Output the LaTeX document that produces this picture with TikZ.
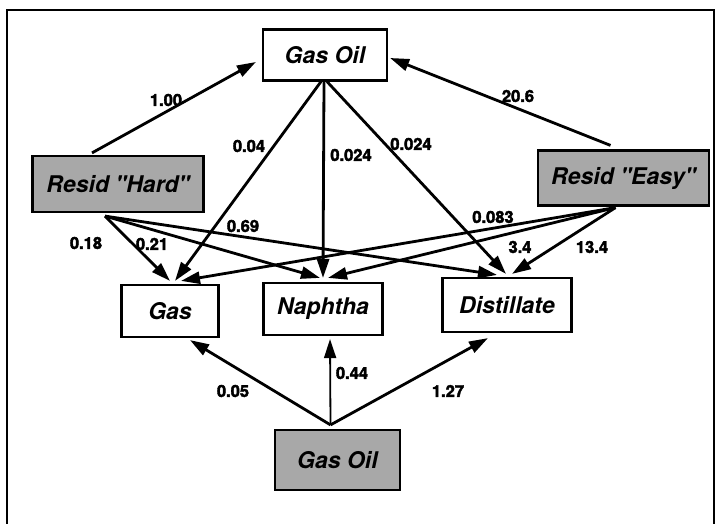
\documentclass[tikz,border=0pt]{standalone}
\usepackage{fontspec}
\setmainfont{TeX Gyre Heros}[BoldFeatures={FakeBold=2.5}]
\usepackage{tikz}
\usetikzlibrary{arrows.meta, positioning}

\tikzset{
    lump/.style={draw, line width=2.2pt, inner sep=0pt, font=\fontsize{23}{25}\selectfont\bfseries\itshape},
    feed/.style={lump, fill=black!34},
    flow/.style={line width=2.8pt, -{Triangle[length=19pt,width=12pt]}},
    rate/.style={font=\fontsize{16.5}{18}\selectfont\bfseries},
}

\begin{document}
\begin{tikzpicture}[x=1pt, y=-1pt]
    \useasboundingbox (0,0) rectangle (725,524);
    \draw[line width=2.2pt] (7,530) -- (7,10) -- (714,10) -- (714,530);

    % lumps
    \node[lump, minimum width=124pt, minimum height=51pt] (gasoil)     at (325,55)    {Gas Oil};
    \node[feed, minimum width=171pt, minimum height=56pt] (hard)       at (118,184)   {Resid \textquotedbl Hard\textquotedbl};
    \node[feed, minimum width=171pt, minimum height=55pt] (easy)       at (623.5,178) {Resid \textquotedbl Easy\textquotedbl};
    \node[lump, minimum width=97pt,  minimum height=52pt] (gas)        at (170,311)   {Gas};
    \node[lump, minimum width=119pt, minimum height=52pt] (naphtha)    at (323,309)   {Naphtha};
    \node[lump, minimum width=129pt, minimum height=54pt] (distillate) at (507,305)   {Distillate};
    \node[feed, minimum width=125pt, minimum height=60pt] (gasoilb)    at (337.5,460) {Gas Oil};

    % shared outlets
    \coordinate (hardout) at ([xshift=-13pt,yshift=-3pt]hard.south);
    \coordinate (easyout) at ([xshift=-8pt,yshift=-1pt]easy.south);
    \coordinate (gasoilout) at (gasoil.south);
    \coordinate (gasoilbout) at ([xshift=-7pt,yshift=4pt]gasoilb.north);

    % resid to gas oil
    \draw[flow] ([xshift=-26pt,yshift=2pt]hard.north) -- ([xshift=-6pt,yshift=-7pt]gasoil.west);
    \draw[flow] ([xshift=-13pt,yshift=4pt]easy.north) -- ([xshift=2pt,yshift=-3pt]gasoil.east);

    % gas oil cracking
    \draw[flow] ([xshift=-4pt]gasoilout) -- ([xshift=5pt,yshift=3pt]gas.north);
    \draw[flow] ([xshift=-1pt]gasoilout) -- ([yshift=4pt]naphtha.north);
    \draw[flow] ([xshift=2pt]gasoilout) -- ([xshift=-1pt,yshift=3pt]distillate.north);

    % resid hard
    \draw[flow] (hardout) -- ([yshift=3pt]gas.north);
    \draw[flow] (hardout) -- ([xshift=-3pt,yshift=4pt]naphtha.north);
    \draw[flow] (hardout) -- ([xshift=-10pt,yshift=2pt]distillate.north);

    % resid easy
    \draw[flow] (easyout) -- ([xshift=11pt,yshift=3pt]gas.north);
    \draw[flow] (easyout) -- ([xshift=5pt,yshift=4pt]naphtha.north);
    \draw[flow] (easyout) -- ([xshift=5pt,yshift=3pt]distillate.north);

    % lower gas oil
    \draw[flow] (gasoilbout) -- ([xshift=20pt,yshift=-2pt]gas.south);
    \draw[flow, line width=1.8pt] (gasoilbout) -- ([xshift=7pt,yshift=-3pt]naphtha.south);
    \draw[flow] (gasoilbout) -- ([xshift=-19pt,yshift=-5pt]distillate.south);

    % rate constants
    \node[rate] (k1)  at (166,100) {1.00};
    \node[rate] (k2)  at (518,96)  {20.6};
    \node[rate] (k3)  at (249,146) {0.04};
    \node[rate] (k4)  at (351,155) {0.024};
    \node[rate] (k5)  at (411,144) {0.024};
    \node[rate] (k6)  at (86,243)  {0.18};
    \node[rate] (k7)  at (152,244) {0.21};
    \node[rate] (k8)  at (243,226) {0.69};
    \node[rate] (k9)  at (493,217) {0.083};
    \node[rate] (k10) at (520,247) {3.4};
    \node[rate] (k11) at (592,247) {13.4};
    \node[rate] (k12) at (233,391) {0.05};
    \node[rate] (k13) at (352,373) {0.44};
    \node[rate] (k14) at (448,391) {1.27};
\end{tikzpicture}
\end{document}
